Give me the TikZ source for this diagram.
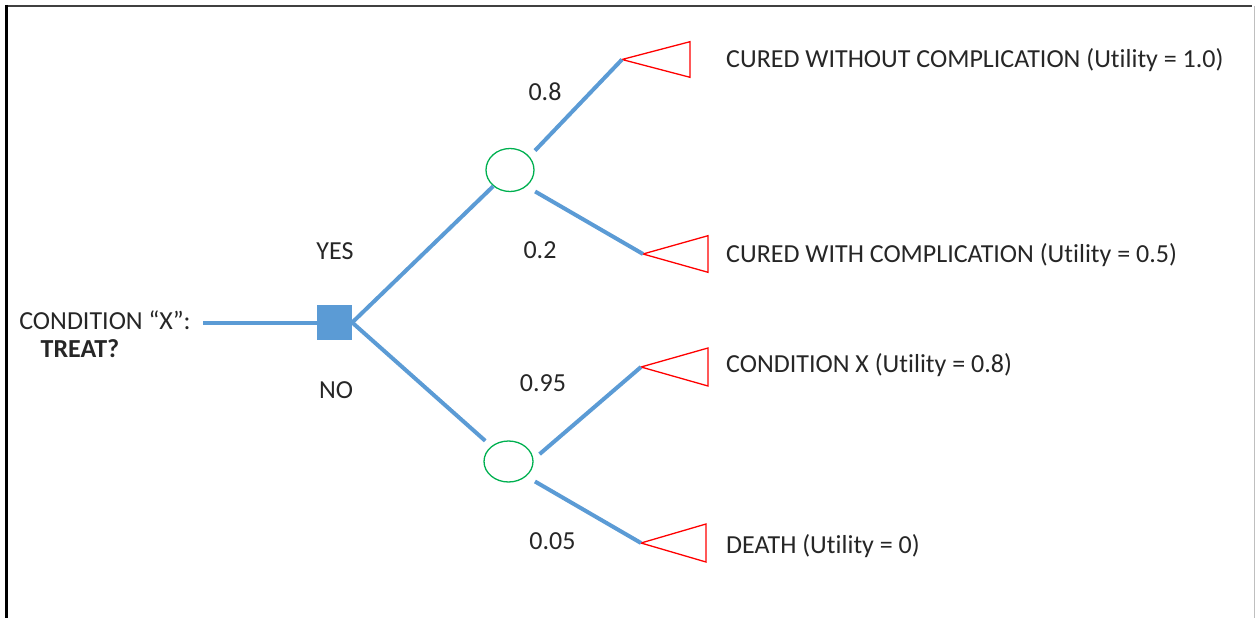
\documentclass[tikz,border=0pt]{standalone}
\usepackage{fontspec}
\setmainfont[Ligatures={NoCommon}]{Carlito}
\usetikzlibrary{shapes.geometric}
\definecolor{branch}{HTML}{5B9BD5}
\definecolor{chance}{HTML}{00B050}
\definecolor{outcome}{HTML}{FF0000}
\definecolor{ink}{HTML}{262626}

\begin{document}
\begin{tikzpicture}[x=1pt,y=-1pt,
  branchline/.style={draw=branch,line width=4pt},
  decision/.style={rectangle,fill=branch,minimum size=35pt,inner sep=0pt},
  chancenode/.style={ellipse,draw=chance,line width=1.3pt,minimum width=48pt,minimum height=43pt,inner sep=0pt},
  endtri/.style={draw=outcome,line width=1.3pt,line join=miter},
  lbl/.style={font=\fontsize{26}{31}\selectfont,text=ink,inner sep=0pt,anchor=base},
  outlbl/.style={lbl,anchor=base west},
]
% canvas and frame
\useasboundingbox (0,0) rectangle (1255,618);
\draw[black!75,line width=2pt] (5,6) -- (1252,6);
\draw[black,line width=2.2pt] (6.5,5) -- (6.5,618);
\draw[black!25,line width=1pt] (1254,6) -- (1254,618);

% decision and chance nodes
\node[decision] (sq) at (334.5,322.5) {};
\node[chancenode] (c1) at (510,170) {};
\node[chancenode,minimum width=49pt,minimum height=41pt] (c2) at (508.5,461.5) {};

% terminal nodes (apex points of the triangles)
\coordinate (t1) at (622,59.5);
\coordinate (t2) at (643,254);
\coordinate (t3) at (641,367);
\coordinate (t4) at (641,543);
\coordinate (start) at (203,322.5);

\draw[endtri] (t1) -- ++(68,-17.8) -- ++(0,35.6) -- cycle;
\draw[endtri] (t2) -- ++(65,-18.3) -- ++(0,36.6) -- cycle;
\draw[endtri] (t3) -- ++(67,-19) -- ++(0,38) -- cycle;
\draw[endtri] (t4) -- ++(65,-19) -- ++(0,38) -- cycle;

% branches
\draw[branchline] (start) -- (sq.west);
\draw[branchline] (sq.east) -- (c1);
\draw[branchline,shorten >=8pt] (sq.east) -- (c2);
\draw[branchline,shorten <=8pt] (c1.35) -- (t1);
\draw[branchline,shorten <=10pt] (c1.-45) -- (t2);
\draw[branchline,shorten <=8pt] (c2.5) -- (t3);
\draw[branchline,shorten <=10pt] (c2.-40) -- (t4);

% question
\node[lbl] (q1) at (105,329) {CONDITION “X”:};
\node[lbl,font=\fontsize{26}{31}\selectfont\bfseries] (q2) at (80,357) {TREAT?};

% branch labels
\node[lbl] (yes) at (335,259) {YES};
\node[lbl] (no) at (336,398) {NO};
\node[lbl] (p1) at (545,100) {0.8};
\node[lbl] (p2) at (540,258) {0.2};
\node[lbl] (p3) at (543,391) {0.95};
\node[lbl] (p4) at (552.5,549) {0.05};

% outcomes
\node[outlbl] (o1) at (726,67) {CURED WITHOUT COMPLICATION (Utility = 1.0)};
\node[outlbl] (o2) at (726,262) {CURED WITH COMPLICATION (Utility = 0.5)};
\node[outlbl] (o3) at (726,372) {CONDITION X (Utility = 0.8)};
\node[outlbl] (o4) at (726,553) {DEATH (Utility = 0)};
\end{tikzpicture}
\end{document}
